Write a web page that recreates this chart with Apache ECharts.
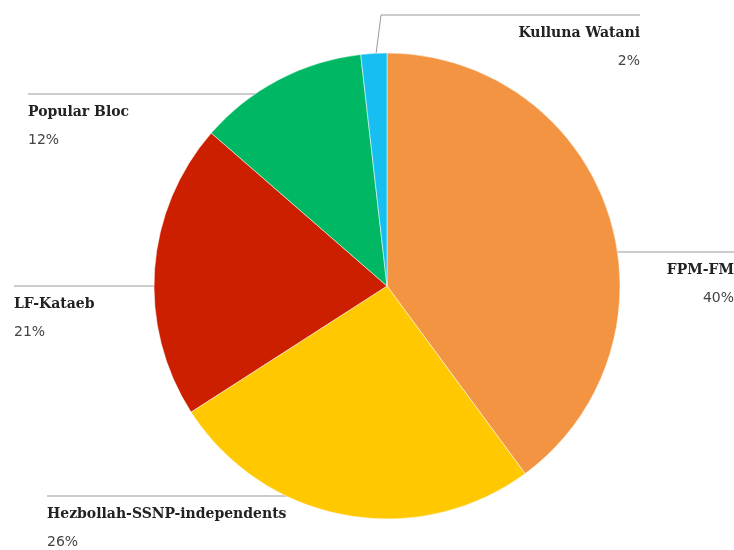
<!DOCTYPE html>
<html><head><meta charset="utf-8">
<script src="https://cdn.jsdelivr.net/npm/echarts@6/dist/echarts.min.js"></script>
<style>html,body{margin:0;background:#fff}#c{width:734px;height:550px}</style>
</head><body><div id="c"></div>
<script>
const names = ['FPM-FM', 'Hezbollah-SSNP-independents', 'LF-Kataeb', 'Popular Bloc', 'Kulluna Watani'];
const values = [39.9, 26.0, 20.5, 11.8, 1.8];
const shown = ['40%', '26%', '21%', '12%', '2%'];
const colors = ['#f29441', '#ffc800', '#cc1f00', '#00b863', '#17bff0'];
// label anchor spots [x, y, align] and leader line points
const spots = [[734, 255, 'right'], [47, 499, 'left'], [14, 289, 'left'], [28, 97, 'left'], [640, 18, 'right']];
const leads = [
  [[527, 252], [734, 252], [734, 252]],
  [[360, 496], [47, 496], [47, 496]],
  [[210, 286], [14, 286], [14, 286]],
  [[303, 94], [28, 94], [28, 94]],
  [[375, 62], [381, 15], [640, 15]]
];

const chart = echarts.init(document.getElementById('c'), null, { renderer: 'canvas' });
chart.setOption({
  animation: false,
  series: [{
    type: 'pie', center: [387, 286], radius: 233, startAngle: 90, clockwise: true,
    data: names.map((n, i) => ({ name: n, value: values[i], itemStyle: { color: colors[i] } })),
    itemStyle: { borderColor: '#fff', borderWidth: 0.5 },
    label: {
      position: 'outside', overflow: 'none', width: 400,
      formatter: p => '{b|' + p.name + '}\n{c|' + shown[p.dataIndex] + '}',
      rich: {
        b: { fontFamily: 'DejaVu Serif', fontWeight: 'bold', fontSize: 14, color: '#222', lineHeight: 30 },
        c: { fontFamily: 'DejaVu Sans', fontSize: 14, color: '#444', lineHeight: 26 }
      }
    },
    labelLine: { show: true, lineStyle: { color: '#999', width: 1 } },
    labelLayout: p => ({
      x: spots[p.dataIndex][0], y: spots[p.dataIndex][1], align: spots[p.dataIndex][2], verticalAlign: 'top',
      labelLinePoints: leads[p.dataIndex]
    })
  }]
});
</script></body></html>
